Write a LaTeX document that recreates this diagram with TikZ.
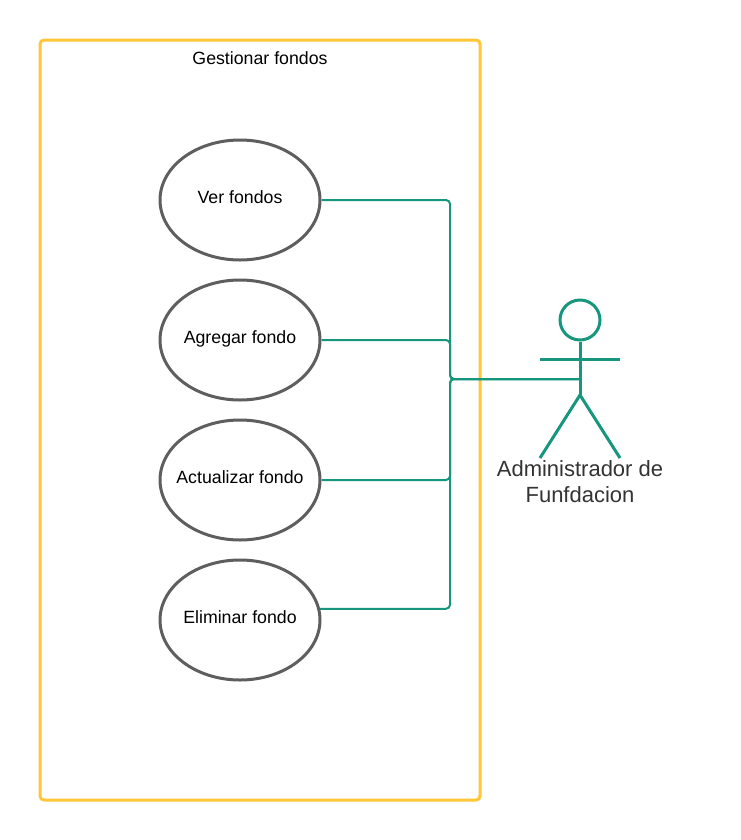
\documentclass[tikz,border=0pt]{standalone}
\usepackage{fontspec}
\setmainfont{Liberation Sans}
\usetikzlibrary{shapes.geometric}
\definecolor{marco}{HTML}{FFC638}
\definecolor{verde}{HTML}{16967C}
\definecolor{gris}{HTML}{5E5E5E}
\begin{document}
\begin{tikzpicture}[
    x=0.75pt, y=-0.75pt,
    sistema/.style={draw=marco, line width=2.25pt, rounded corners=3pt, minimum width=330pt, minimum height=570pt},
    usecase/.style={draw=gris, line width=2.25pt, ellipse, minimum width=120pt, minimum height=90pt, inner xsep=-30pt, inner ysep=0pt, text height=12pt, text depth=7.5pt},
    texto/.style={text=black, font=\fontsize{13.3}{16}\selectfont},
    enlace/.style={draw=verde, line width=1.5pt, rounded corners=3pt},
    monigote/.style={draw=verde, line width=2.25pt}
]
\useasboundingbox (0,0) rectangle (740,840);

% Nodes
\node[sistema] (gestion) at (260,420) {};
\node[texto] (titulo) at (260,58) {Gestionar fondos};
\node[usecase, texto] (ver) at (240,200) {Ver fondos};
\node[usecase, texto] (agregar) at (240,340) {Agregar fondo};
\node[usecase, texto] (actualizar) at (240,480) {Actualizar fondo};
\node[usecase, texto] (eliminar) at (240,620) {Eliminar fondo};

% Actor
\node[monigote, circle, minimum size=30pt, inner sep=0pt] (cabeza) at (580,320) {};
\coordinate (cuello) at (580,395);
\coordinate (manoi) at (540,359);
\coordinate (manod) at (620,359);
\coordinate (piei) at (540,458);
\coordinate (pied) at (620,458);
\coordinate (actor) at (580,379);
\coordinate (bus) at (450,379);
\node[align=center, text=black!80, font=\fontsize{16.5}{19.5}\selectfont] (nombre) at (580,482) {Administrador de\\Funfdacion};

% Edges
\draw[enlace] (ver.east) -| (bus) -- (actor);
\draw[enlace] (agregar.east) -| (bus) -- (actor);
\draw[enlace] (actualizar.east) -| (bus) -- (actor);
\draw[enlace] (eliminar.8.6) -| (bus) -- (actor);
\draw[monigote] (cabeza) -- (cuello);
\draw[monigote] (manoi) -- (manod);
\draw[monigote] (piei) -- (cuello) -- (pied);

\end{tikzpicture}
\end{document}
